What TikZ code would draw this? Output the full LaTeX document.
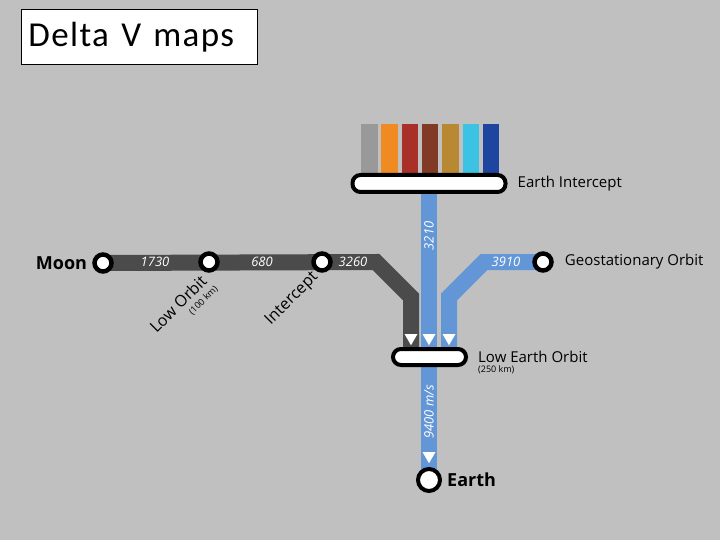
\documentclass[tikz,border=0pt]{standalone}
\usepackage{fontspec}
\setmainfont{Open Sans}
\newfontfamily\titlefont[LetterSpace=4.0]{Carlito}
\usetikzlibrary{positioning, shapes.geometric, calc, backgrounds}
\definecolor{mapbg}{HTML}{C0C0C0}
\definecolor{mapdark}{HTML}{4B4B4B}
\definecolor{mapblue}{HTML}{6396D6}
\definecolor{barA}{HTML}{999999}
\definecolor{barB}{HTML}{F08A23}
\definecolor{barC}{HTML}{A83028}
\definecolor{barD}{HTML}{803A26}
\definecolor{barE}{HTML}{B88932}
\definecolor{barF}{HTML}{3CC3E4}
\definecolor{barG}{HTML}{1E46A0}

\tikzset{
  station/.style={circle, draw=black, fill=white, line width=4.5pt, minimum size=17pt, inner sep=0pt},
  capsule/.style={rectangle, draw=black, fill=white, line width=4pt, rounded corners=8pt, inner sep=0pt},
  downmark/.style={regular polygon, regular polygon sides=3, shape border rotate=180,
    fill=white, minimum size=15pt, inner sep=0pt},
  route/.style={line width=16pt},
  dvlabel/.style={text=white, font=\itshape\fontsize{13}{15}\selectfont, inner sep=0pt},
  placename/.style={font=\fontsize{15}{17}\selectfont, inner sep=0pt},
  bigname/.style={font=\bfseries\fontsize{18}{20}\selectfont, inner sep=0pt},
  smallnote/.style={font=\fontsize{9}{10}\selectfont, inner sep=0pt},
}

\begin{document}
\begin{tikzpicture}[x=1pt, y=-1pt]
    % stations
    \node[station] (moon) at (103,263) {};
    \node[station] (loworb) at (209,262) {};
    \node[station] (intc) at (322,262) {};
    \node[station] (geo) at (543,262) {};
    \node[station, minimum size=22pt, line width=4pt] (earth) at (429,480) {};
    \node[capsule, minimum width=153pt, minimum height=17pt] (eic) at (429,183.5) {};
    \node[capsule, minimum width=73pt, minimum height=16pt] (leo) at (429.5,357) {};

    \begin{scope}[on background layer]
      \fill[mapbg] (0,0) rectangle (720,540);
      \foreach \c [count=\i from 0] in {barA,barB,barC,barD,barE,barF,barG}
        \fill[\c] ({361+20.33*\i},124) rectangle ++(16.5,56);
      \coordinate (dkbend1) at (376,262);
      \coordinate (dkbend2) at (411,297);
      \coordinate (gobend1) at (484,262);
      \coordinate (gobend2) at (449,297);
      \draw[route, mapdark] (moon.center) -- (dkbend1) -- (dkbend2) -- (dkbend2 |- leo.center);
      \draw[route, mapblue] (geo.center) -- (gobend1) -- (gobend2) -- (gobend2 |- leo.center);
      \draw[route, mapblue] (eic.center) -- (eic.center |- earth.center);
    \end{scope}

    % arrow marks
    \node[downmark] (mkdark) at (411,337.75) {};
    \node[downmark] (mkmid) at (429,337.75) {};
    \node[downmark] (mkgeo) at (449,337.75) {};
    \node[downmark] (mkearth) at (429,455.75) {};

    % delta v numbers
    \node[dvlabel] (dvmoon) at (155,262) {1730};
    \node[dvlabel] (dvlow) at (262,262) {680};
    \node[dvlabel] (dvintc) at (353,262) {3260};
    \node[dvlabel] (dvgeo) at (506,262) {3910};
    \node[dvlabel, rotate=90] (dvup) at (429,236) {3210};
    \node[dvlabel, rotate=90] (dvdown) at (429,412) {9400 m/s};

    % names
    \node[bigname, left=5pt of moon] (moonname) {Moon};
    \node[bigname, right=5pt of earth] (earthname) {Earth};
    \node[placename, right=10pt of eic] (eicname) {Earth Intercept};
    \node[placename, right=11pt of geo] (geoname) {Geostationary Orbit};
    \node[placename, right=10pt of leo] (leoname) {Low Earth Orbit};
    \node[smallnote, anchor=north west] (leokm) at ($(leoname.south west)+(0,2)$) {(250 km)};
    \node[placename, font=\fontsize{16}{18}\selectfont, rotate=45] (lowname) at (178,304) {Low Orbit};
    \node[smallnote, rotate=45, anchor=north east] (lowkm) at ($(lowname.south east)+(5,2)$) {(100 km)};
    \node[placename, font=\fontsize{16}{18}\selectfont, rotate=45] (intcname) at (292,299) {Intercept};

    % title
    \node[draw=black, fill=white, line width=0.8pt, anchor=north west, minimum width=236pt,
      minimum height=55pt, inner sep=0pt, text width=221pt, align=left] (title) at (20.5,9.5)
      {\titlefont\fontsize{35}{40}\selectfont Delta\hspace{0.35em}V\hspace{0.35em}maps};
  \end{tikzpicture}
\end{document}
